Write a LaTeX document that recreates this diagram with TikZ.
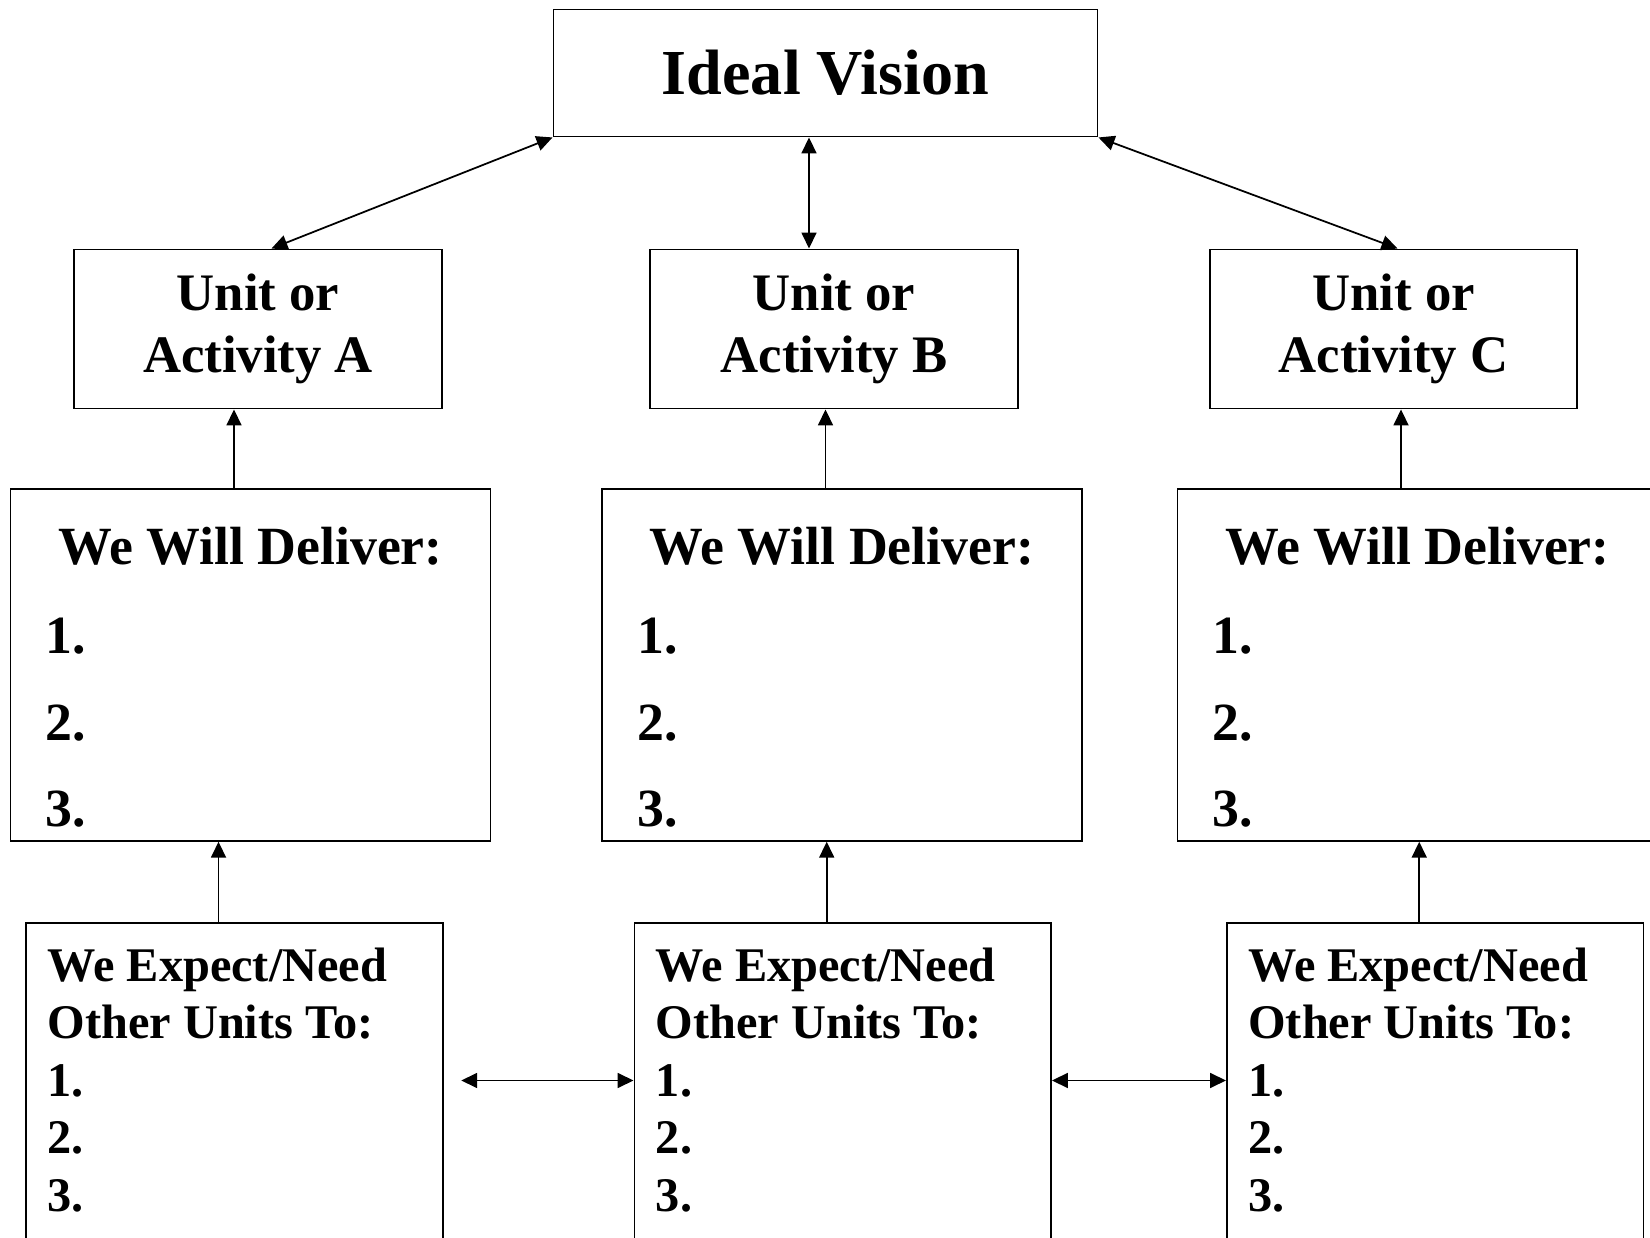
\documentclass[tikz,border=0pt]{standalone}
\usepackage{fontspec}
\setmainfont{Liberation Serif}
\usetikzlibrary{arrows.meta, positioning, calc}

\begin{document}
\begin{tikzpicture}[font=\bfseries,
    box/.style={draw, line width=1.1pt, inner sep=0pt},
    unit/.style={box, minimum width=7.35cm, minimum height=3.18cm, align=center,
                 font=\fontsize{30}{35.3}\selectfont\bfseries},
    deliver/.style={box, minimum width=9.6cm, minimum height=7.03cm},
    expect/.style={box, anchor=north west, minimum width=8.33cm, minimum height=8cm},
    big/.style={inner sep=0pt, font=\fontsize{30.6}{36}\selectfont\bfseries},
    small/.style={inner sep=0pt, font=\fontsize{27.5}{33}\selectfont\bfseries},
    link/.style={line width=1pt, {Triangle[length=0.32cm, width=0.3cm]}-{Triangle[length=0.32cm, width=0.3cm]}},
    up/.style={line width=1pt, -{Triangle[length=0.32cm, width=0.3cm]}}]
  \useasboundingbox (0,0) rectangle (33,24.74);
  \clip (0,0) rectangle (33,24.74);

  % top
  \node[box, minimum width=10.88cm, minimum height=2.54cm,
        font=\fontsize{36.5}{40}\selectfont\bfseries] (vision) at (16.51,23.28) {Ideal Vision};

  % units
  \foreach \u/\x in {A/5.16, B/16.68, C/27.87}
    \node[unit] (unit\u) at (\x,18.16) {Unit or\\Activity \u};

  % deliver boxes
  \foreach \u/\x in {A/5.01, B/16.84, C/28.35} {
    \node[deliver] (del\u) at (\x,11.44) {};
    \node[big, anchor=base] (title\u) at ($(del\u.north)+(0,-1.53)$) {We Will Deliver:};
    \foreach \n/\dy in {1/3.30, 2/5.05, 3/6.77}
      \node[big, anchor=base west] (del\u\n) at ($(del\u.north west)+(0.72,-\dy)$) {\n.};
  }

  % expect boxes
  \foreach \u/\x in {A/0.506, B/12.67, C/24.52} {
    \node[expect] (exp\u) at (\x,6.30) {};
    \foreach \t [count=\i from 0] in {{We Expect/Need}, {Other Units To:}, 1., 2., 3.}
      \node[small, anchor=base west] (exp\u\i) at ($(exp\u.north west)+(0.44,-1.19-1.15*\i)$) {\t};
  }

  % connectors
  \draw[link] (vision.south west) -- ([xshift=0.27cm]unitA.north);
  \draw[link] ([xshift=-0.33cm]vision.south) -- ([xshift=-0.33cm]vision.south |- unitB.north);
  \draw[link] (vision.south east) -- ([xshift=0.08cm]unitC.north);
  \foreach \u in {A,B,C} {
    \draw[up] ([xshift=-0.33cm]del\u.north) -- ([xshift=-0.33cm]del\u.north |- unit\u.south);
    \draw[up] ([xshift=-0.32cm]exp\u.north) -- ([xshift=-0.32cm]exp\u.north |- del\u.south);
  }
  \coordinate (gapAB) at ($(expA.north east)+(0.35,-3.17)$);
  \draw[link] (gapAB) -- (gapAB -| expB.west);
  \draw[link] ([yshift=-3.17cm]expB.north east) -- ([yshift=-3.17cm]expC.north west);
\end{tikzpicture}
\end{document}
